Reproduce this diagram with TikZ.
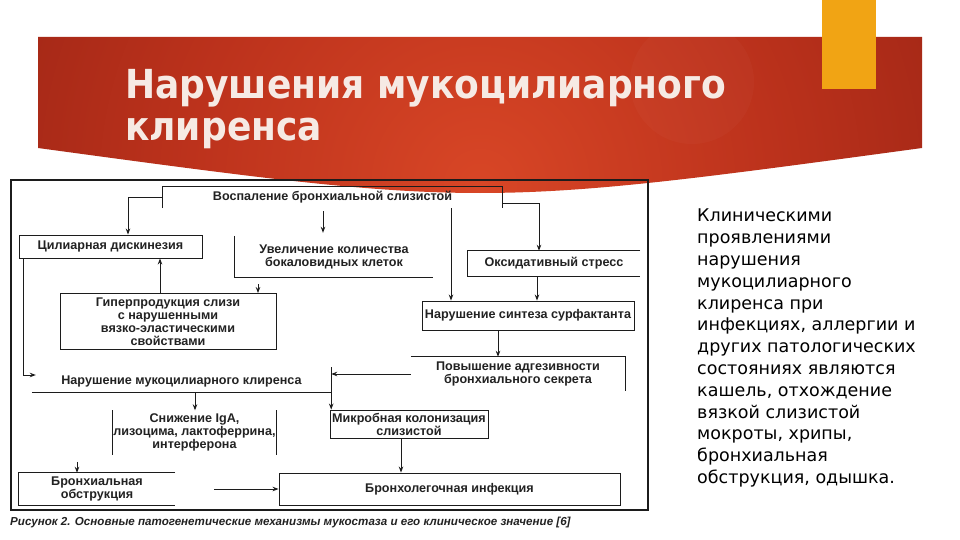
\documentclass[tikz,border=0pt]{standalone}
\usepackage{fontspec}
\setmainfont{DejaVu Sans}
\newfontfamily\dgfont{Liberation Sans}
\newfontfamily\ttlfont[FakeStretch=0.9]{DejaVu Sans}
\usetikzlibrary{arrows.meta,calc}

\definecolor{ttlcol}{RGB}{246,234,228}
\definecolor{dgtext}{RGB}{34,34,34}
\definecolor{dgline}{RGB}{28,28,28}
\definecolor{orangebar}{RGB}{241,164,20}
\definecolor{bcA}{RGB}{216,70,38}
\definecolor{bcB}{RGB}{188,50,28}
\definecolor{bcC}{RGB}{146,32,18}
\definecolor{bcD}{RGB}{112,20,10}
\pgfdeclareradialshading{bannershade}{\pgfpoint{0bp}{0bp}}{color(0bp)=(bcA); color(13bp)=(bcB); color(29bp)=(bcC); color(50bp)=(bcD)}

\tikzset{
  dg/.style={font=\dgfont\bfseries\fontsize{12.6}{13}\selectfont, text=dgtext, align=center, inner sep=0pt},
  box/.style={dg, draw=dgline, line width=0.9pt},
  ln/.style={draw=dgline, line width=0.9pt},
  arr/.style={draw=dgline, line width=0.9pt, -{Stealth[length=6pt,width=4.5pt]}},
}

\begin{document}
\begin{tikzpicture}[x=1pt,y=-1pt]
\useasboundingbox (0,0) rectangle (960,540);
\fill[white] (0,0) rectangle (960,540);

% banner
\begin{scope}
  \clip (38,37) -- (922,37) -- (922,148) .. controls (480,208) .. (38,148) -- cycle;
  \shade[shading=bannershade] (480,185) circle (560);
  \fill[white,opacity=0.025] (692,82) circle (62);
\end{scope}
\fill[orangebar] (822,0) rectangle (876,89);

\node[anchor=north west, inner sep=0pt, align=left, text=ttlcol,
      font=\ttlfont\bfseries\fontsize{40}{42}\selectfont] (title) at (125,69)
  {Нарушения мукоцилиарного\\клиренса};

% right text
\node[anchor=north west, inner sep=0pt, align=left, text=black,
      font=\fontsize{17.5}{21.8}\selectfont] (clin) at (697,209)
  {Клиническими\\проявлениями\\нарушения\\мукоцилиарного\\клиренса при\\инфекциях, аллергии и\\других патологических\\состояниях являются\\кашель, отхождение\\вязкой слизистой\\мокроты, хрипы,\\бронхиальная\\обструкция, одышка.};

% diagram frame
\draw[dgline, line width=1.3pt] (11,180) rectangle (648,510);

% nodes
\node[dg, minimum width=339pt, minimum height=21pt] (vosp) at (332.5,197.5) {Воспаление бронхиальной слизистой};
\draw[ln] (vosp.south west) -- (vosp.north west) -- (vosp.north east) -- (vosp.south east);

\node[box, minimum width=183pt, minimum height=23pt] (cil) at (110.5,246.5) {Цилиарная дискинезия};

\node[dg, minimum width=198pt, minimum height=41pt] (uvel) at (334,256.5) {Увеличение количества\\бокаловидных клеток};
\draw[ln] (uvel.north west) -- (uvel.south west) -- (uvel.south east);

\node[dg, minimum width=172pt, minimum height=25pt] (oks) at (554,263.5) {Оксидативный стресс};
\draw[ln] (oks.north east) -- (oks.north west) -- (oks.south west) -- (oks.south east);

\node[box, minimum width=212pt, minimum height=29pt] (sint) at (528,315.5) {Нарушение синтеза сурфактанта};

\node[box, minimum width=216pt, minimum height=56pt] (gip) at (168,321.5) {Гиперпродукция слизи\\с нарушенными\\вязко-эластическими\\свойствами};

\node[dg, minimum width=214pt, minimum height=34pt] (povy) at (518,374) {Повышение адгезивности\\бронхиального секрета};
\draw[ln] (povy.north west) -- (povy.north east) -- (povy.south east);

\node[dg, minimum width=299pt, minimum height=22pt] (narmuk) at (181.5,381) {Нарушение мукоцилиарного клиренса};
\draw[ln] (narmuk.south west) -- (narmuk.south east);

\node[dg, minimum width=163pt, minimum height=44pt] (sniz) at (194.5,432.5) {Снижение IgA,\\лизоцима, лактоферрина,\\интерферона};
\draw[ln] (sniz.north west) -- (sniz.south west);
\draw[ln] (sniz.north east) -- (sniz.south east);

\node[box, minimum width=158pt, minimum height=28pt] (mikr) at (409,424) {Микробная колонизация\\слизистой};

\node[box, minimum width=341pt, minimum height=32pt] (bronl) at (449.5,489) {Бронхолегочная инфекция};

\node[dg, minimum width=156pt, minimum height=32pt] (brobs) at (97,489) {Бронхиальная\\обструкция};
\draw[ln] (brobs.north east) -- (brobs.north west) -- (brobs.south west) -- (brobs.south east);

% connectors
\draw[arr] (vosp.west) -| ([xshift=17.5pt]cil.north);
\draw[arr] ([yshift=-5.5pt]vosp.east) -| ([xshift=-15pt]oks.north);
\draw[arr] ([xshift=-9.5pt,yshift=-3pt]vosp.south) -- ([xshift=-11pt,yshift=3pt]uvel.north);
\draw[arr] ([xshift=118.5pt]vosp.south) -- ([xshift=118.5pt]vosp.south |- sint.north);
\draw[arr] ([xshift=90pt,yshift=9pt]gip.north) -- ([xshift=90pt]gip.north);
\draw[arr] ([xshift=-8pt]gip.north) -- ([xshift=-8pt]gip.north |- cil.south);
\draw[arr] ([xshift=5pt]cil.south west) |- ([xshift=4pt,yshift=6pt]narmuk.west);
\draw[arr] ([xshift=-17pt]oks.south) -- ([xshift=-17pt]oks.south |- sint.north);
\draw[arr] ([xshift=-30pt]sint.south) -- ([xshift=-30pt]sint.south |- povy.north);
\draw[arr] (povy.west) -- (povy.west -| narmuk.south east);
\draw[arr] ([yshift=25pt]narmuk.south east) -- (narmuk.south east |- mikr.north);
\draw[arr] ([xshift=13.5pt]narmuk.south) -- ([xshift=13.5pt]narmuk.south |- sniz.north);
\draw[arr] ([xshift=-8pt]mikr.south) -- ([xshift=-8pt]mikr.south |- bronl.north);
\draw[arr] ([xshift=-20pt,yshift=11pt]brobs.north) -- ([xshift=-20pt]brobs.north);
\draw[arr] ([xshift=39pt]brobs.east) -- (bronl.west);

% caption
\node[anchor=west, inner sep=0pt, text=dgtext, font=\dgfont\bfseries\itshape\fontsize{11.6}{13}\selectfont] (cap) at (10,522)
  {Рисунок 2. Основные патогенетические механизмы мукостаза и его клиническое значение [6]};
\end{tikzpicture}
\end{document}
